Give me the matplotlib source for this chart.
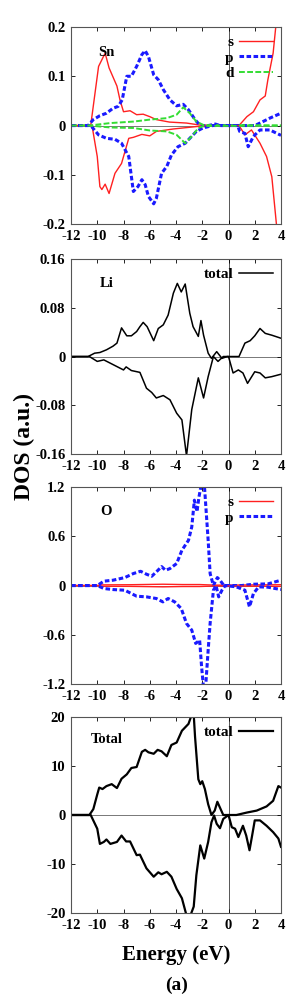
import matplotlib
matplotlib.use("Agg")
import matplotlib.pyplot as plt

plt.rcParams['font.family'] = ['Liberation Serif', 'DejaVu Serif']
plt.rcParams['font.weight'] = 'bold'

# ---- Sn panel ----
sn_s_up_e = [-12, -10.5, -9.9, -9.4, -9.1, -8.5, -8.27, -8.0, -7.5, -7.0, -6.5, -6.0, -5.5, -4.5, -3.2, -2.2, 0.8, 1.4, 1.9, 2.4, 2.8, 3.0, 3.4, 3.6]
sn_s_up = [0, 0, 0.12, 0.147, 0.117, 0.08, 0.052, 0.028, 0.03, 0.022, 0.023, 0.018, 0.012, 0.007, 0.005, 0.001, 0, 0.018, 0.028, 0.052, 0.06, 0.093, 0.147, 0.2]
sn_s_dn_e = [-12, -10.4, -10.0, -9.8, -9.65, -9.4, -9.1, -8.65, -8.15, -7.6, -7.25, -6.6, -6.0, -5.5, -4.2, -2.4, 0.8, 1.25, 1.75, 2.4, 2.9, 3.3, 3.65]
sn_s_dn = [0, 0, -0.063, -0.124, -0.13, -0.119, -0.138, -0.097, -0.077, -0.026, -0.024, -0.018, -0.021, -0.012, -0.007, -0.002, 0, -0.019, -0.009, -0.036, -0.063, -0.104, -0.2]
sn_p_up_e = [-12, -10.7, -10.3, -9.8, -9.3, -8.8, -8.4, -8.1, -7.75, -7.4, -7.0, -6.6, -6.35, -6.1, -5.7, -5.35, -4.97, -4.46, -3.95, -3.45, -3.05, -2.55, -2.2, -1.7, -1.0, -0.65, 2.0, 2.4, 3.15, 4.0]
sn_p_up = [0, 0, 0.012, 0.02, 0.025, 0.035, 0.039, 0.052, 0.1, 0.1, 0.12, 0.144, 0.152, 0.14, 0.103, 0.093, 0.073, 0.052, 0.04, 0.043, 0.032, 0.012, 0.001, -0.001, 0.003, 0, 0, 0.005, 0.015, 0.025]
sn_p_dn_e = [-12, -10.5, -9.9, -9.3, -8.65, -8.15, -7.6, -7.25, -6.9, -6.6, -6.35, -6.1, -5.7, -5.5, -5.1, -4.7, -4.35, -3.85, -3.3, -2.95, -2.45, -1.95, -1.2, 0.7, 0.85, 1.25, 1.5, 1.9, 2.4, 3.15, 4.0]
sn_p_dn = [0, 0, -0.019, -0.026, -0.028, -0.036, -0.063, -0.134, -0.124, -0.11, -0.12, -0.144, -0.159, -0.148, -0.097, -0.083, -0.06, -0.043, -0.036, -0.026, -0.012, -0.005, 0, 0, -0.012, -0.016, -0.043, -0.022, -0.009, -0.009, -0.02]
sn_d_up_e = [-12, -10.6, -9.0, -7.25, -6.0, -4.7, -3.95, -3.45, -2.95, -2.45, -1.9, 4.0]
sn_d_up = [0, 0, 0.005, 0.008, 0.012, 0.015, 0.022, 0.037, 0.025, 0.008, 0.001, 0]
sn_d_dn_e = [-12, -10.6, -9.0, -7.25, -6.0, -4.7, -3.95, -3.3, -2.8, -2.3, -1.9, 4.0]
sn_d_dn = [0, 0, -0.004, -0.005, -0.01, -0.012, -0.019, -0.036, -0.022, -0.005, -0.001, 0]

# ---- Li panel ----
li_up_e = [-12, -10.7, -10.2, -9.8, -9.3, -8.8, -8.5, -8.15, -7.75, -7.4, -7.0, -6.75, -6.5, -6.2, -5.7, -5.35, -4.97, -4.6, -4.2, -3.9, -3.6, -3.3, -2.95, -2.7, -2.3, -2.1, -1.9, -1.55, -1.3, -0.9, -0.5, -0.1, 0.8, 1.25, 1.65, 2.0, 2.4, 2.8, 3.3, 4.0]
li_up = [0, 0, 0.0055, 0.0066, 0.011, 0.017, 0.022, 0.047, 0.034, 0.034, 0.041, 0.049, 0.056, 0.049, 0.026, 0.046, 0.052, 0.068, 0.104, 0.12, 0.106, 0.119, 0.071, 0.049, 0.033, 0.059, 0.035, 0.0055, -0.003, 0.008, -0.003, 0, 0, 0.022, 0.026, 0.034, 0.046, 0.038, 0.035, 0.03]
li_dn_e = [-12, -10.6, -10.0, -9.5, -9.0, -8.0, -7.8, -7.4, -6.75, -6.25, -5.85, -5.5, -4.97, -4.46, -3.95, -3.55, -3.2, -2.8, -2.3, -1.9, -1.55, -1.15, -0.8, -0.4, 0, 0.35, 0.75, 1.1, 1.45, 2.0, 2.4, 2.8, 3.3, 4.0]
li_dn = [0, 0, -0.008, -0.0055, -0.011, -0.022, -0.017, -0.023, -0.026, -0.052, -0.059, -0.068, -0.064, -0.071, -0.093, -0.104, -0.163, -0.087, -0.035, -0.068, -0.033, 0, -0.008, 0, 0, -0.027, -0.022, -0.027, -0.044, -0.025, -0.027, -0.035, -0.033, -0.029]

# ---- O panel ----
o_p_up_e = [-12, -10.0, -9.5, -8.8, -7.9, -7.25, -6.7, -6.25, -5.85, -5.5, -5.1, -4.8, -4.46, -3.95, -3.55, -3.05, -2.8, -2.6, -2.4, -2.25, -2.05, -1.85, -1.55, -1.4, -1.15, -0.85, -0.65, -0.35, 1.0, 1.9, 3.0, 4.0]
o_p_up = [0, 0, 0.053, 0.065, 0.097, 0.146, 0.174, 0.138, 0.113, 0.166, 0.231, 0.186, 0.207, 0.268, 0.43, 0.551, 0.713, 1.04, 0.9, 1.08, 1.25, 1.25, 0.55, 0.146, 0.0, 0.097, 0.065, 0, 0, 0.016, 0.02, 0.065]
o_p_dn_e = [-12, -10.0, -9.5, -8.8, -7.9, -7.0, -6.25, -5.5, -5.0, -4.6, -4.1, -3.6, -3.2, -2.8, -2.5, -2.2, -2.05, -1.9, -1.75, -1.55, -1.4, -1.15, -0.95, -0.75, -0.5, -0.25, 0.6, 1.25, 1.6, 1.9, 2.3, 3.0, 4.0]
o_p_dn = [0, 0, -0.036, -0.049, -0.057, -0.13, -0.138, -0.158, -0.199, -0.158, -0.199, -0.28, -0.462, -0.543, -0.705, -0.665, -0.99, -1.25, -1.25, -0.787, -0.46, -0.057, 0, -0.138, -0.057, 0, -0.016, -0.057, -0.26, -0.097, -0.016, -0.02, -0.049]
o_s_up_e = [-12, -10.0, -9.8, -7.5, -5.0, -3.5, -2.2, -1.0, 0.5, 2.0, 4.0]
o_s_up = [0, 0, 0.008, 0.01, 0.016, 0.012, 0.012, 0.005, 0.006, 0.008, 0.01]
o_s_dn = [0, 0, -0.008, -0.01, -0.016, -0.012, -0.012, -0.005, -0.006, -0.008, -0.01]

# ---- Total panel ----
tot_up_e = [-12, -10.6, -10.3, -10.0, -9.85, -9.6, -9.3, -8.9, -8.5, -8.15, -7.75, -7.4, -7.0, -6.6, -6.35, -6.1, -5.7, -5.4, -5.1, -4.7, -4.35, -3.95, -3.55, -3.05, -2.8, -2.65, -2.55, -2.3, -2.15, -2.0, -1.8, -1.55, -1.3, -1.05, -0.85, -0.65, -0.4, 0.6, 1.4, 2.15, 2.9, 3.4, 3.8, 4.0]
tot_up = [0, 0, 1.2, 4.2, 5.6, 5.3, 5.9, 6.3, 5.5, 7.4, 8.3, 9.6, 9.8, 12.9, 13.3, 12.8, 12.5, 13.3, 13.0, 12.0, 14.3, 14.8, 17.2, 18.6, 20.5, 20.5, 16.0, 7.3, 6.3, 6.9, 5.3, 2.2, 0, 0.9, 2.7, 1.5, 0, 0, 0.5, 0.9, 1.75, 2.9, 5.9, 5.6]
tot_dn_e = [-12, -10.5, -10.0, -9.8, -9.5, -9.3, -9.0, -8.5, -8.15, -7.8, -7.5, -7.0, -6.75, -6.25, -5.7, -5.35, -5.1, -4.7, -4.35, -3.95, -3.55, -3.2, -2.9, -2.65, -2.45, -2.15, -1.85, -1.55, -1.3, -1.1, -0.9, -0.65, -0.4, 0, 0.25, 0.5, 0.75, 1.1, 1.35, 1.6, 1.8, 2.0, 2.4, 2.9, 3.4, 3.8, 4.0]
tot_dn = [0, 0, -2.8, -5.9, -5.5, -5.0, -5.9, -5.5, -4.2, -5.4, -5.4, -8.2, -8.1, -10.9, -12.6, -11.7, -12.1, -11.6, -12.6, -15.1, -17.0, -20.5, -20.5, -18.7, -12.3, -6.2, -8.9, -5.5, -1.5, -0.1, -1.8, -2.7, -0.8, 0, -2.5, -2.8, -4.5, -2.2, -4.2, -7.2, -4.2, -1.1, -1.1, -2.2, -3.5, -4.8, -6.5]

xticks = [-12, -10, -8, -6, -4, -2, 0, 2, 4]

fig = plt.figure(figsize=(2.99, 9.97), dpi=100)
L, W = 0.2375, 0.7023
rects = [(L, 0.7753, W, 0.1976), (L, 0.5446, W, 0.1956),
         (L, 0.3139, W, 0.1976), (L, 0.0843, W, 0.1965)]
axes = [fig.add_axes(r) for r in rects]

RED, BLUE, GREEN = '#ff2020', '#1a1aff', '#33dd33'

def style(ax, lim, yt, ylbls):
    ax.set_xlim(-12, 4)
    ax.set_ylim(-lim, lim)
    ax.set_xticks(xticks)
    ax.set_xticklabels([str(t) for t in xticks])
    ax.set_yticks(yt)
    ax.set_yticklabels(ylbls)
    ax.tick_params(direction='in', top=True, right=True, length=3, width=0.6,
                   labelsize=10.5, pad=4)
    for lab in ax.get_xticklabels() + ax.get_yticklabels():
        lab.set_fontweight('bold')
    for s in ax.spines.values():
        s.set_linewidth(0.8)
        s.set_color('#555555')
    ax.axhline(0, color='#777777', lw=0.7, zorder=0)
    ax.axvline(0, color='#555555', lw=0.7, zorder=0)

def leg(ax):
    ax.legend(loc='upper right', frameon=False, markerfirst=False,
              handlelength=2.2, handletextpad=0.35, labelspacing=0.12,
              borderaxespad=0.15, prop={'weight': 'bold', 'size': 11})

ax = axes[0]
ax.plot(sn_s_up_e, sn_s_up, color=RED, lw=1.0, label='s')
ax.plot(sn_p_up_e, sn_p_up, color=BLUE, lw=2.2, ls=(0, (1.5, 0.8)), label='p')
ax.plot(sn_d_up_e, sn_d_up, color=GREEN, lw=1.4, ls=(0, (3, 1.2)), label='d')
ax.plot(sn_s_dn_e, sn_s_dn, color=RED, lw=1.0)
ax.plot(sn_p_dn_e, sn_p_dn, color=BLUE, lw=2.2, ls=(0, (1.5, 0.8)))
ax.plot(sn_d_dn_e, sn_d_dn, color=GREEN, lw=1.4, ls=(0, (3, 1.2)))
style(ax, 0.2, [-0.2, -0.1, 0, 0.1, 0.2], ['-0.2', '-0.1', '0', '0.1', '0.2'])
ax.text(-9.3, 0.149, 'Sn', ha='center', va='center', fontsize=10.5, fontweight='bold')
leg(ax)

ax = axes[1]
ax.plot(li_up_e, li_up, color='black', lw=1.1, label='total')
ax.plot(li_dn_e, li_dn, color='black', lw=1.1)
style(ax, 0.16, [-0.16, -0.08, 0, 0.08, 0.16], ['-0.16', '-0.08', '0', '0.08', '0.16'])
ax.text(-9.3, 0.12, 'Li', ha='center', va='center', fontsize=10.5, fontweight='bold')
leg(ax)

ax = axes[2]
ax.plot(o_s_up_e, o_s_up, color=RED, lw=1.0, label='s')
ax.plot(o_p_up_e, o_p_up, color=BLUE, lw=2.2, ls=(0, (1.5, 0.8)), label='p')
ax.plot(o_s_up_e, o_s_dn, color=RED, lw=1.0)
ax.plot(o_p_dn_e, o_p_dn, color=BLUE, lw=2.2, ls=(0, (1.5, 0.8)))
style(ax, 1.2, [-1.2, -0.6, 0, 0.6, 1.2], ['-1.2', '-0.6', '0', '0.6', '1.2'])
ax.text(-9.3, 0.9, 'O', ha='center', va='center', fontsize=10.5, fontweight='bold')
leg(ax)

ax = axes[3]
ax.plot(tot_up_e, tot_up, color='black', lw=1.6, label='total')
ax.plot(tot_dn_e, tot_dn, color='black', lw=1.6)
style(ax, 20, [-20, -10, 0, 10, 20], ['-20', '-10', '0', '10', '20'])
ax.text(-9.3, 15.5, 'Total', ha='center', va='center', fontsize=10.5, fontweight='bold')
leg(ax)

fig.text(0.083, 0.552, 'DOS (a.u.)', rotation=90, ha='center', va='center',
         fontsize=17, fontweight='bold')
fig.text(0.59, 0.042, 'Energy (eV)', ha='center', va='center',
         fontsize=15, fontweight='bold')
fig.text(0.59, 0.012, '(a)', ha='center', va='center',
         fontsize=14, fontweight='bold')

fig.savefig('out.png', dpi=100)
